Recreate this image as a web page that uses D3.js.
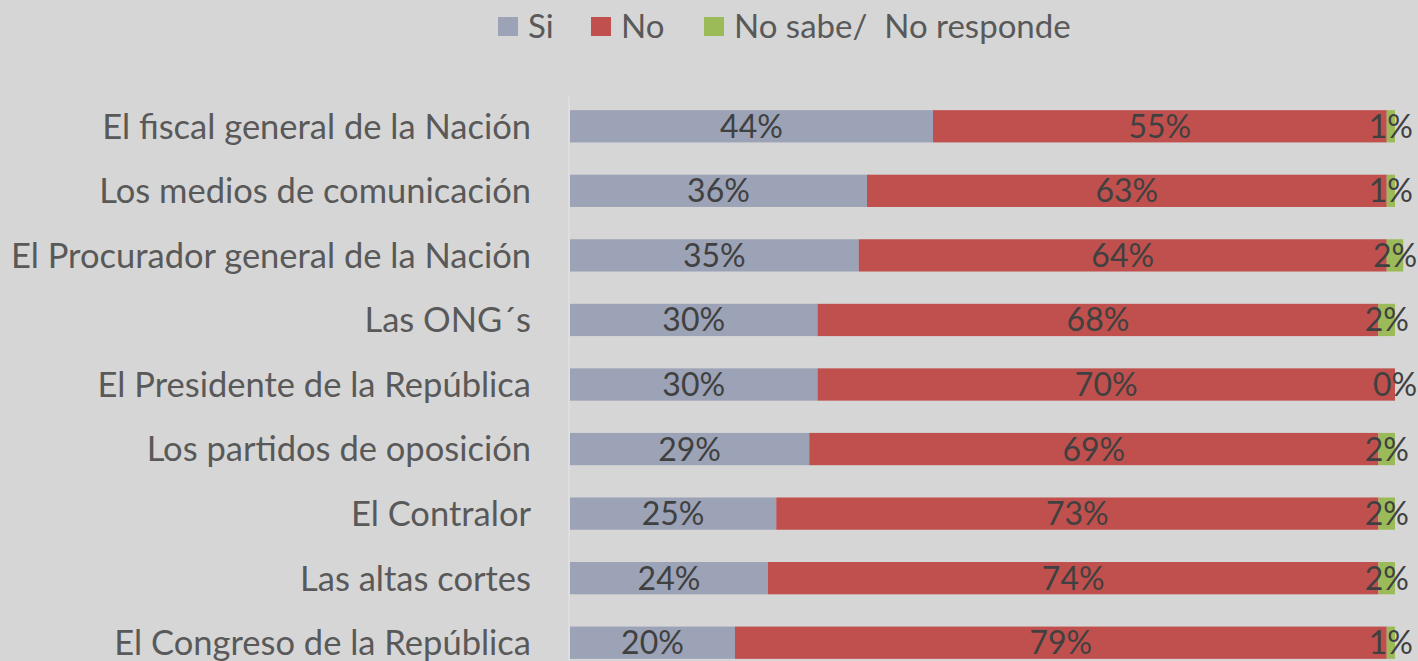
<!DOCTYPE html>
<html>
<head>
<meta charset="utf-8">
<script src="https://cdn.jsdelivr.net/npm/d3@7"></script>
<style>
  html, body { margin: 0; padding: 0; background: #d6d6d6; }
  svg { display: block; font-family: Lato, "Open Sans", sans-serif; }
</style>
</head>
<body>
<div id="place"></div>
<script>
// donnees
const categorias = [
  "El fiscal general de la Nación",
  "Los medios de comunicación",
  "El Procurador general de la Nación",
  "Las ONG´s",
  "El Presidente de la República",
  "Los partidos de oposición",
  "El Contralor",
  "Las altas cortes",
  "El Congreso de la República"
];
const si = [44, 36, 35, 30, 30, 29, 25, 24, 20];
const no = [55, 63, 64, 68, 70, 69, 73, 74, 79];
const nsnr = [1, 1, 2, 2, 0, 2, 2, 2, 1];
const series = ["Si", "No", "No sabe/  No responde"];
const colores = ["#9ca3b6", "#c0504d", "#9bbb59"];

const width = 1418, height = 661;

let svg = d3.select("#place")
  .append("svg")
  .attr("width", width)
  .attr("height", height);

svg.append("rect")
  .attr("width", width)
  .attr("height", height)
  .attr("fill", "#d6d6d6");

const rows = categorias.map((c, i) => ({ cat: c, Si: si[i], No: no[i], NS: nsnr[i] }));
const stack = d3.stack().keys(["Si", "No", "NS"])(rows);

const x = d3.scaleLinear().domain([0, 100]).range([570, 1395]);
const y = d3.scaleBand().domain(categorias).range([94, 675]).paddingInner(0.5).paddingOuter(0.25);

// ligne verticale de l'axe
svg.append("line")
  .attr("x1", 569).attr("x2", 569)
  .attr("y1", 96).attr("y2", height)
  .attr("stroke", "#e0e0e0")
  .attr("stroke-width", 1.5);

let groupes = svg.selectAll("g.serie")
  .data(stack)
  .join("g")
  .attr("class", "serie")
  .attr("fill", (d, i) => colores[i]);

groupes.selectAll("rect")
  .data(d => d)
  .join("rect")
  .attr("x", d => x(d[0]))
  .attr("width", d => x(d[1]) - x(d[0]))
  .attr("y", d => y(d.data.cat))
  .attr("height", y.bandwidth());

// etiquettes de pourcentage
groupes.selectAll("text")
  .data(d => d)
  .join("text")
  .attr("x", d => (x(d[0]) + x(d[1])) / 2)
  .attr("y", d => y(d.data.cat) + y.bandwidth() / 2)
  .attr("dy", "0.36em")
  .attr("text-anchor", "middle")
  .attr("fill", "#404040")
  .style("font-size", "32px")
  .text(d => (d[1] - d[0]) + "%");

// axe des categories
svg.append("g")
  .selectAll("text")
  .data(categorias)
  .join("text")
  .attr("x", 531)
  .attr("y", d => y(d) + y.bandwidth() / 2)
  .attr("dy", "0.36em")
  .attr("text-anchor", "end")
  .attr("fill", "#595959")
  .style("font-size", "34.5px")
  .text(d => d);

// legende
const legX = [498, 591, 704];
let leg = svg.append("g").selectAll("g")
  .data(series)
  .join("g")
  .attr("transform", (d, i) => "translate(" + legX[i] + ",17)");
leg.append("rect")
  .attr("width", 20).attr("height", 19)
  .attr("fill", (d, i) => colores[i]);
leg.append("text")
  .attr("x", 30)
  .attr("y", 9.5)
  .attr("dy", "0.36em")
  .attr("fill", "#595959")
  .style("font-size", "33px")
  .style("white-space", "pre")
  .attr("xml:space", "preserve")
  .text(d => d);
</script>
</body>
</html>
